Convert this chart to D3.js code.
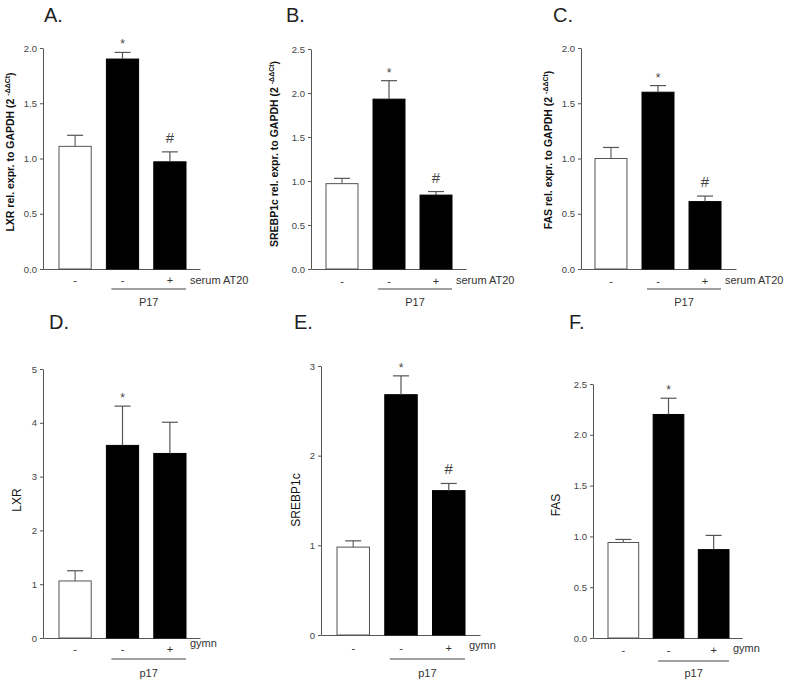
<!DOCTYPE html>
<html>
<head>
<meta charset="utf-8">
<script src="https://cdn.jsdelivr.net/npm/d3@7/dist/d3.min.js"></script>
<style>
  html, body { margin: 0; padding: 0; background: #fff; }
  svg { display: block; font-family: "Liberation Sans", Arial, sans-serif; }
</style>
</head>
<body>
<svg id="chart" width="787" height="682"></svg>
<script>
// ---------- data ----------
const groups = ["-", "-", "+"];
const treatmentAC = "serum AT20";
const treatmentDF = "gymn";
const groupLabelAC = "P17";
const groupLabelDF = "p17";

const lxrA = [1.11, 1.90, 0.97];
const lxrAErr = [0.10, 0.06, 0.09];
const srebpB = [0.97, 1.93, 0.84];
const srebpBErr = [0.06, 0.21, 0.04];
const fasC = [1.00, 1.60, 0.61];
const fasCErr = [0.10, 0.06, 0.05];
const lxrD = [1.06, 3.58, 3.43];
const lxrDErr = [0.19, 0.73, 0.58];
const srebpE = [0.98, 2.68, 1.61];
const srebpEErr = [0.07, 0.21, 0.08];
const fasF = [0.94, 2.20, 0.87];
const fasFErr = [0.03, 0.16, 0.14];

const marksA = ["", "*", "#"];
const marksB = ["", "*", "#"];
const marksC = ["", "*", "#"];
const marksD = ["", "*", ""];
const marksE = ["", "*", "#"];
const marksF = ["", "*", ""];

const ticksA = [0, 0.5, 1.0, 1.5, 2.0];
const ticksB = [0, 0.5, 1.0, 1.5, 2.0, 2.5];
const ticksC = [0, 0.5, 1.0, 1.5, 2.0];
const ticksD = [0, 1, 2, 3, 4, 5];
const ticksE = [0, 1, 2, 3];
const ticksF = [0, 0.5, 1.0, 1.5, 2.0, 2.5];

const panelTitles = ["A.", "B.", "C.", "D.", "E.", "F."];
const yLabelA = ["LXR rel. expr. to GAPDH (2 ", "-\u0394\u0394Ct", ")"];
const yLabelB = ["SREBP1c rel. expr. to GAPDH (2 ", "-\u0394\u0394Ct", ")"];
const yLabelC = ["FAS rel. expr. to GAPDH (2 ", "-\u0394\u0394Ct", ")"];
const yLabelD = "LXR";
const yLabelE = "SREBP1c";
const yLabelF = "FAS";

// ---------- layout ----------
const panels = [
  { title: panelTitles[0], tx: 44, ty: 22, values: lxrA, errs: lxrAErr, marks: marksA, ticks: ticksA, fmt: ".1f",
    ax: 43, yBase: 269, yTop: 48, xEnd: 200, b0: 59, b1: 186, ylab: yLabelA, ylx: 14, yly: 152,
    treat: treatmentAC, grp: groupLabelAC, tickY: 284, treatY: 284, lineY: 289, grpY: 306 },
  { title: panelTitles[1], tx: 286, ty: 22, values: srebpB, errs: srebpBErr, marks: marksB, ticks: ticksB, fmt: ".1f",
    ax: 311, yBase: 269, yTop: 49, xEnd: 466, b0: 326, b1: 452, ylab: yLabelB, ylx: 278, yly: 154,
    treat: treatmentAC, grp: groupLabelAC, tickY: 285, treatY: 284, lineY: 289, grpY: 306 },
  { title: panelTitles[2], tx: 553, ty: 22, values: fasC, errs: fasCErr, marks: marksC, ticks: ticksC, fmt: ".1f",
    ax: 581, yBase: 269, yTop: 48, xEnd: 736, b0: 595, b1: 721, ylab: yLabelC, ylx: 552, yly: 150,
    treat: treatmentAC, grp: groupLabelAC, tickY: 285, treatY: 284, lineY: 289, grpY: 306 },
  { title: panelTitles[3], tx: 49, ty: 329, values: lxrD, errs: lxrDErr, marks: marksD, ticks: ticksD, fmt: "d",
    ax: 43, yBase: 638, yTop: 369, xEnd: 200, b0: 59, b1: 186, ylab: yLabelD, ylx: 21, yly: 500,
    treat: treatmentDF, grp: groupLabelDF, tickY: 653, treatY: 647, lineY: 659, grpY: 677 },
  { title: panelTitles[4], tx: 294, ty: 329, values: srebpE, errs: srebpEErr, marks: marksE, ticks: ticksE, fmt: "d",
    ax: 321, yBase: 635, yTop: 366, xEnd: 480, b0: 337, b1: 465, ylab: yLabelE, ylx: 300, yly: 500,
    treat: treatmentDF, grp: groupLabelDF, tickY: 652, treatY: 649, lineY: 659, grpY: 677 },
  { title: panelTitles[5], tx: 569, ty: 329, values: fasF, errs: fasFErr, marks: marksF, ticks: ticksF, fmt: ".1f",
    ax: 593, yBase: 638, yTop: 384, xEnd: 742, b0: 608, b1: 729, ylab: yLabelF, ylx: 560, yly: 505,
    treat: treatmentDF, grp: groupLabelDF, tickY: 654, treatY: 652, lineY: 661, grpY: 677 }
];

const svg = d3.select("#chart");
const axisColor = "#555";
const textColor = "#333";

panels.forEach(p => {
  const g = svg.append("g");
  const maxTick = p.ticks[p.ticks.length - 1];
  const y = d3.scaleLinear().domain([0, maxTick]).range([p.yBase, p.yTop]);
  const step = (p.b1 - p.b0) / (groups.length - 0.32);
  const x = d3.scaleBand().domain(d3.range(groups.length))
    .range([p.b0 - step * 0.16, p.b1 + step * 0.16]).paddingInner(0.32).paddingOuter(0.16);

  // title
  g.append("text").attr("x", p.tx).attr("y", p.ty).attr("font-size", 20).attr("fill", "#222").text(p.title);

  // y axis
  const yAxis = d3.axisLeft(y).tickValues(p.ticks).tickSize(3).tickSizeOuter(0).tickFormat(d3.format(p.fmt));
  const ya = g.append("g").attr("transform", `translate(${p.ax},0)`).call(yAxis);
  ya.select(".domain").attr("stroke", axisColor);
  ya.selectAll(".tick line").attr("stroke", axisColor);
  ya.selectAll(".tick text").attr("fill", "#444").attr("font-size", 9.5)
    .attr("font-family", "Liberation Sans, Arial, sans-serif").attr("x", -6);

  // x axis baseline
  const xAxis = d3.axisBottom(d3.scaleLinear().domain([0, 1]).range([p.ax, p.xEnd])).tickValues([]).tickSizeOuter(0);
  const xa = g.append("g").attr("transform", `translate(0,${p.yBase})`).call(xAxis);
  xa.select(".domain").attr("stroke", axisColor);

  // bars
  g.selectAll("rect.bar").data(p.values).join("rect")
    .attr("class", "bar")
    .attr("x", (d, i) => x(i))
    .attr("width", x.bandwidth())
    .attr("y", d => y(d))
    .attr("height", d => p.yBase - y(d))
    .attr("fill", (d, i) => i === 0 ? "#fff" : "#000")
    .attr("stroke", (d, i) => i === 0 ? "#555" : "#000")
    .attr("stroke-width", 1);

  // error bars (upward)
  const capW = 16;
  p.values.forEach((v, i) => {
    const cx = x(i) + x.bandwidth() / 2;
    const top = y(v + p.errs[i]);
    g.append("line").attr("x1", cx).attr("x2", cx).attr("y1", y(v)).attr("y2", top)
      .attr("stroke", i === 0 ? "#666" : "#555").attr("stroke-width", 1.2);
    g.append("line").attr("x1", cx - capW / 2).attr("x2", cx + capW / 2).attr("y1", top).attr("y2", top)
      .attr("stroke", "#555").attr("stroke-width", 1.2);
    const m = p.marks[i];
    if (m) {
      g.append("text").attr("x", cx).attr("y", top - (m === "*" ? 4 : 9))
        .attr("text-anchor", "middle").attr("font-size", m === "*" ? 12 : 15)
        .attr("fill", "#444").text(m);
    }
    // group tick labels
    g.append("text").attr("x", cx).attr("y", p.tickY).attr("text-anchor", "middle")
      .attr("font-size", 11).attr("fill", textColor).text(groups[i]);
  });

  // treatment label
  g.append("text").attr("y", p.treatY)
    .attr("x", x(2) + x.bandwidth() + 4)
    .attr("font-size", 11).attr("fill", textColor).text(p.treat);

  // group bracket line
  const lx0 = x(1) + 5, lx1 = x(2) + x.bandwidth();
  g.append("line").attr("x1", lx0).attr("x2", lx1).attr("y1", p.lineY).attr("y2", p.lineY)
    .attr("stroke", "#444").attr("stroke-width", 1);
  g.append("text").attr("x", (lx0 + lx1) / 2).attr("y", p.grpY).attr("text-anchor", "middle")
    .attr("font-size", 11).attr("fill", textColor).text(p.grp);

  // y label
  const yl = g.append("text").attr("transform", `translate(${p.ylx},${p.yly}) rotate(-90)`)
    .attr("text-anchor", "middle").attr("fill", "#111");
  if (Array.isArray(p.ylab)) {
    yl.attr("font-size", 10.5).attr("font-weight", "bold");
    yl.append("tspan").text(p.ylab[0]);
    yl.append("tspan").attr("font-size", 7).attr("dy", -4).text(p.ylab[1]);
    yl.append("tspan").attr("dy", 4).text(p.ylab[2]);
  } else {
    yl.attr("font-size", 12).text(p.ylab);
  }
});
</script>
</body>
</html>
